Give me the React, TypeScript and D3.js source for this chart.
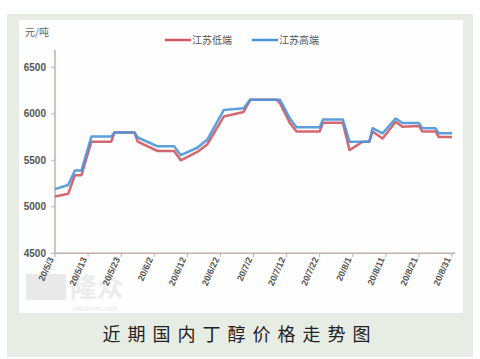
import React from 'react'
import * as d3 from 'd3'

// change-point dates (2020) and prices, yuan/ton
const dates = ['5/3', '5/7', '5/9', '5/11', '5/14', '5/20', '5/21', '5/27', '5/28', '6/3', '6/8', '6/10', '6/15', '6/18', '6/23', '6/29', '7/1', '7/9', '7/10', '7/13', '7/15', '7/22', '7/23', '7/29', '7/31', '8/4', '8/6', '8/7', '8/10', '8/14', '8/16', '8/21', '8/22', '8/26', '8/27', '8/31']
const lowEnd = [5110, 5140, 5340, 5340, 5700, 5700, 5800, 5800, 5700, 5600, 5600, 5500, 5590, 5670, 5970, 6020, 6150, 6150, 6115, 5900, 5810, 5810, 5905, 5905, 5610, 5700, 5700, 5810, 5735, 5915, 5860, 5870, 5810, 5810, 5750, 5750]
const highEnd = [5190, 5235, 5390, 5390, 5755, 5755, 5800, 5800, 5745, 5650, 5650, 5555, 5635, 5720, 6040, 6060, 6150, 6150, 6150, 5950, 5855, 5855, 5940, 5940, 5700, 5700, 5700, 5845, 5790, 5950, 5900, 5900, 5845, 5845, 5790, 5790]
const xTickLabels = ['20/5/3', '20/5/13', '20/5/23', '20/6/2', '20/6/12', '20/6/22', '20/7/2', '20/7/12', '20/7/22', '20/8/1', '20/8/11', '20/8/21', '20/8/31']
const yTicks = [4500, 5000, 5500, 6000, 6500]

const parse = d3.timeParse('%y/%m/%d')
const parseShort = (s: string) => parse('20/' + s) as Date

const App = () => {
  const x = d3.scaleTime()
    .domain([parseShort('5/3'), parseShort('8/31')])
    .range([55, 452])
  const y = d3.scaleLinear().domain([4500, 6500]).range([253.3, 67.3])

  const line = d3.line<number>()
    .x((d, i) => x(parseShort(dates[i])))
    .y(d => y(d))

  const axisColor = '#bfb2ab'
  const font = '"Liberation Sans", Arial, sans-serif'

  return (
    <svg width={480} height={359} style={{ position: 'absolute', left: 0, top: 0 }}>
      <rect x={0} y={0} width={480} height={359} fill="#ffffff" />
      <rect x={7} y={14} width={466} height={343} fill="#e7ece4" />
      <rect x={19} y={20} width={444} height={293} fill="#fdfefd" />

      {/* watermark */}
      <g opacity={0.5}>
        <rect x={26} y={274} width={40} height={26} fill="#d6d6d6" />
        <text x={70} y={297} fontFamily='"Noto Sans CJK SC"' fontSize={27} fontWeight={700} fill="#dcdcdc">隆众</text>
        <text x={72} y={311} fontFamily={font} fontSize={8} fontWeight={700} fill="#e0e0e0">oilchem.net</text>
      </g>

      <text x={25} y={36} fontFamily='"Noto Sans CJK SC"' fontSize={10} fill="#666">元/吨</text>

      {/* legend */}
      <line x1={165} x2={191} y1={40} y2={40} stroke="#d0575f" strokeWidth={2.5} />
      <text x={192} y={44} fontFamily='"Noto Sans CJK SC"' fontSize={10} fill="#555">江苏低端</text>
      <line x1={252} x2={278} y1={40} y2={40} stroke="#4b93d8" strokeWidth={2.5} />
      <text x={279} y={44} fontFamily='"Noto Sans CJK SC"' fontSize={10} fill="#555">江苏高端</text>

      {/* y axis */}
      <line x1={55} x2={55} y1={50} y2={253.3} stroke={axisColor} strokeWidth={1.5} />
      {yTicks.map(t => (
        <g key={t}>
          <line x1={51} x2={55} y1={y(t)} y2={y(t)} stroke={axisColor} />
          <text x={46} y={y(t) + 3.5} textAnchor="end" fontFamily={font} fontSize={10} fontWeight={700} fill="#555">{t}</text>
        </g>
      ))}

      {/* x axis */}
      <line x1={55} x2={455} y1={253.3} y2={253.3} stroke={axisColor} strokeWidth={1.5} />
      {xTickLabels.map(l => {
        const tx = x(parse(l) as Date)
        return (
          <g key={l}>
            <line x1={tx} x2={tx} y1={253.3} y2={257} stroke={axisColor} />
            <text transform={`translate(${tx - 1},${259}) rotate(-66)`} textAnchor="end" fontFamily={font} fontSize={9} fontWeight={700} fill="#555">{l}</text>
          </g>
        )
      })}

      {/* series */}
      <path d={line(lowEnd) ?? ''} fill="none" stroke="#d0575f" strokeWidth={2.5} strokeLinejoin="round" opacity={0.9} />
      <path d={line(highEnd) ?? ''} fill="none" stroke="#4b93d8" strokeWidth={2.5} strokeLinejoin="round" opacity={0.9} />

      <text x={240} y={341} textAnchor="middle" fontFamily='"Noto Sans CJK SC"' fontSize={18} letterSpacing={7} fill="#222">近期国内丁醇价格走势图</text>
    </svg>
  )
}

export default App
